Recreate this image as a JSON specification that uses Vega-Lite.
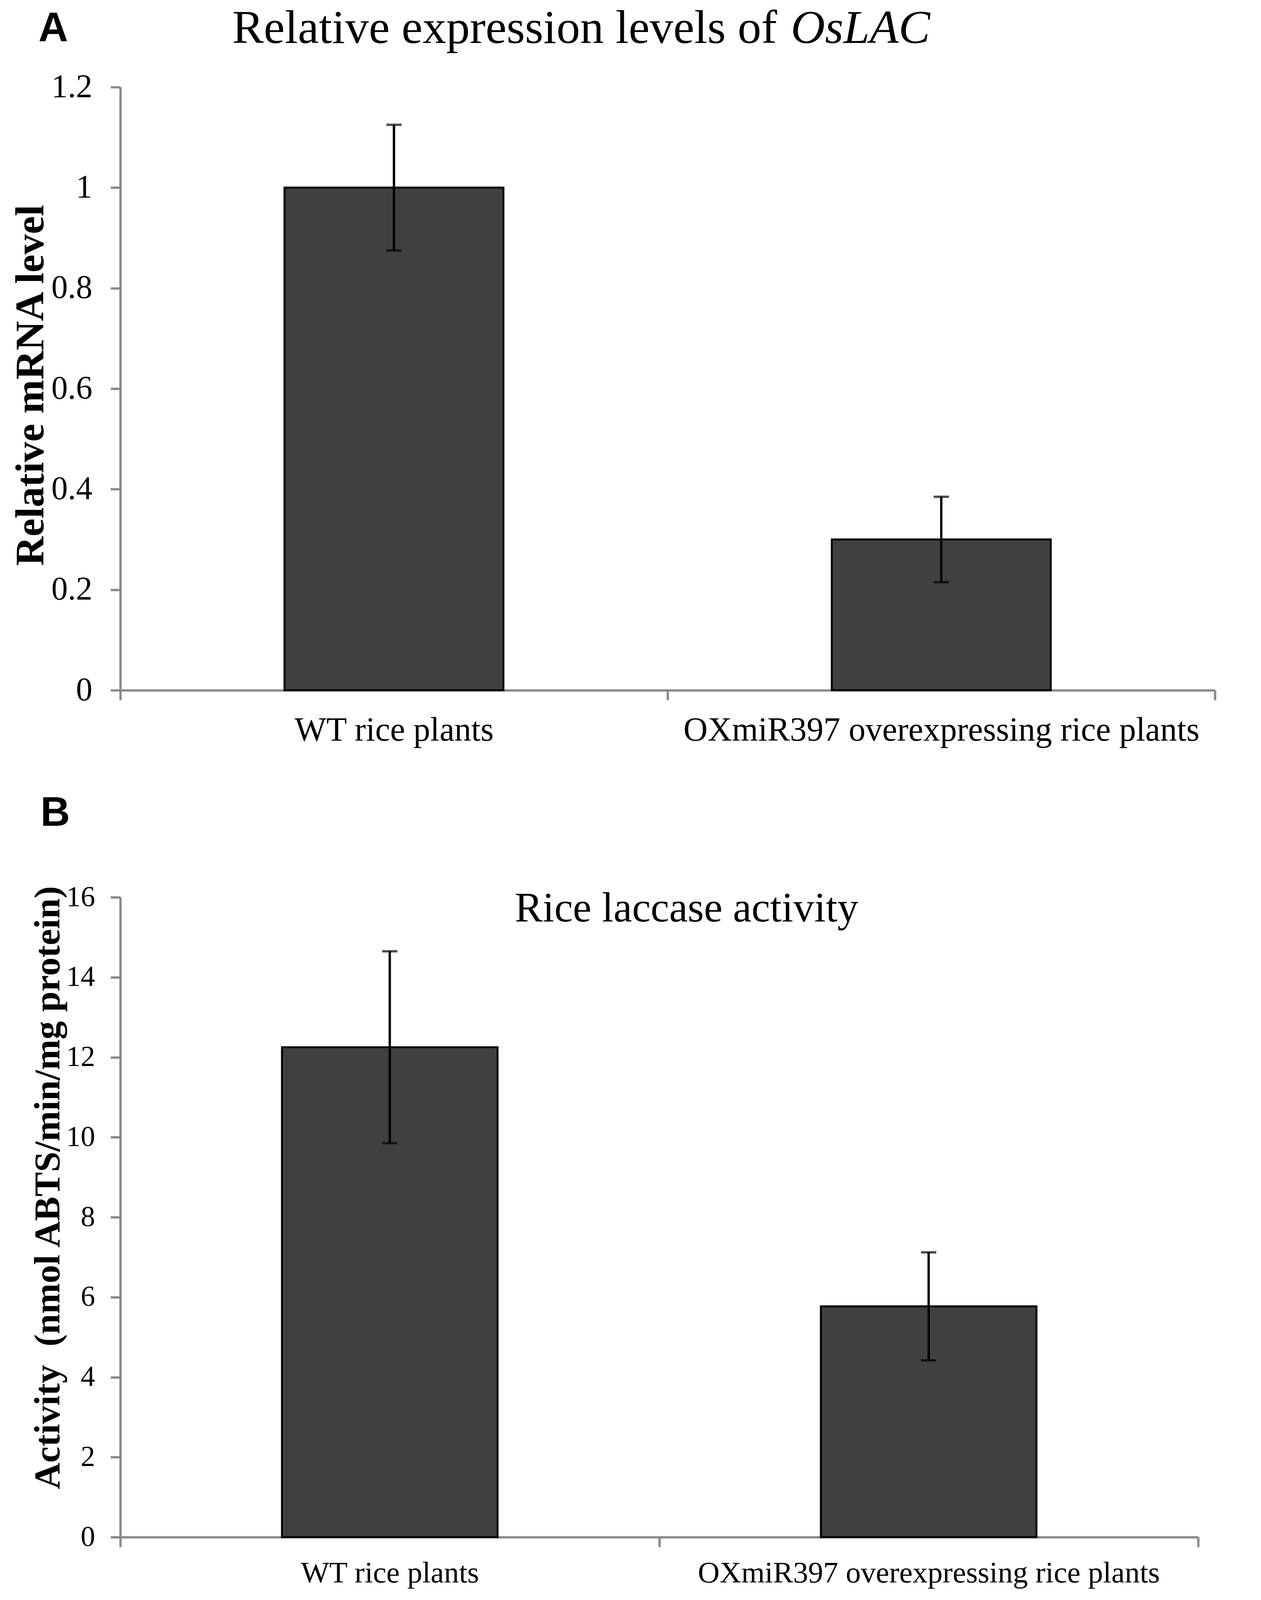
{
  "$schema": "https://vega.github.io/schema/vega-lite/v6.json",
  "background": "white",
  "padding": {"left": 27, "top": 12, "right": 10, "bottom": 5},
  "spacing": 117,
  "config": {
    "view": {"stroke": null},
    "font": "Liberation Serif",
    "axis": {
      "grid": false,
      "domainColor": "#8a8a8a",
      "domainWidth": 6,
      "tickColor": "#8a8a8a",
      "tickWidth": 6,
      "tickSize": 25,
      "labelFont": "Liberation Serif",
      "labelColor": "black",
      "labelLimit": 0,
      "titleFont": "Liberation Serif",
      "titleColor": "black"
    }
  },
  "datasets": {
    "expr": [
      {"group": "WT rice plants", "value": 1.0, "err": 0.125},
      {"group": "OXmiR397 overexpressing rice plants", "value": 0.3, "err": 0.085}
    ],
    "lac": [
      {"group": "WT rice plants", "value": 12.25, "err": 2.4},
      {"group": "OXmiR397 overexpressing rice plants", "value": 5.77, "err": 1.35}
    ]
  },
  "vconcat": [
    {
      "data": {"name": "expr"},
      "width": 2802,
      "height": 1544,
      "resolve": {"axis": {"x": "independent", "y": "independent"}},
      "layer": [
        {
          "mark": {"type": "bar", "color": "#404040", "stroke": "black", "strokeWidth": 5, "width": {"band": 0.4}},
          "encoding": {
            "x": {
              "field": "group", "type": "nominal", "sort": null,
              "scale": {"paddingInner": 0, "paddingOuter": 0},
              "axis": {
                "title": "A", "labelAngle": 0, "labelFontSize": 86,
                "labelBaseline": "alphabetic", "labelPadding": 103, "tickBand": "extent",
                "titleFont": "Liberation Sans", "titleFontSize": 105, "titleFontWeight": "bold",
                "titleAlign": "left", "titleBaseline": "alphabetic", "titleX": -210, "titleY": -1662
              }
            },
            "y": {
              "field": "value", "type": "quantitative",
              "scale": {"domain": [0, 1.2], "nice": false},
              "axis": {
                "title": "Relative mRNA level", "values": [0, 0.2, 0.4, 0.6, 0.8, 1, 1.2],
                "format": ".1~f", "labelFontSize": 84, "labelPadding": 47,
                "titleFontSize": 104, "titleFontWeight": "bold", "titleAngle": 270,
                "titleAlign": "center", "titleBaseline": "alphabetic", "titleX": -198, "titleY": 763
              }
            }
          }
        },
        {
          "mark": {"type": "errorbar", "color": "black", "thickness": 6, "ticks": {"size": 39, "thickness": 6, "color": "black"}},
          "encoding": {
            "x": {
              "field": "group", "type": "nominal", "sort": null,
              "axis": {
                "orient": "top", "domain": false, "ticks": false, "labels": false,
                "title": "Relative expression levels of", "titleFontSize": 121, "titleFontWeight": "normal",
                "titleAlign": "left", "titleBaseline": "alphabetic", "titleX": 286, "titleY": -114
              }
            },
            "y": {
              "field": "value", "type": "quantitative",
              "axis": {
                "orient": "right", "domain": false, "ticks": false, "labels": false,
                "title": "OsLAC", "titleFontSize": 121, "titleFontWeight": "normal", "titleFontStyle": "italic",
                "titleAngle": 0, "titleAlign": "left", "titleBaseline": "alphabetic", "titleX": -1086, "titleY": -114
              }
            },
            "yError": {"field": "err"}
          }
        }
      ]
    },
    {
      "data": {"name": "lac"},
      "width": 2759,
      "height": 1638,
      "resolve": {"axis": {"x": "independent", "y": "independent"}},
      "layer": [
        {
          "mark": {"type": "bar", "color": "#404040", "stroke": "black", "strokeWidth": 5, "width": {"band": 0.4}},
          "encoding": {
            "x": {
              "field": "group", "type": "nominal", "sort": null,
              "scale": {"paddingInner": 0, "paddingOuter": 0},
              "axis": {
                "title": "B", "labelAngle": 0, "labelFontSize": 77,
                "labelBaseline": "alphabetic", "labelPadding": 90, "tickBand": "extent",
                "titleFont": "Liberation Sans", "titleFontSize": 105, "titleFontWeight": "bold",
                "titleAlign": "left", "titleBaseline": "alphabetic", "titleX": -205, "titleY": -1822
              }
            },
            "y": {
              "field": "value", "type": "quantitative",
              "scale": {"domain": [0, 16], "nice": false},
              "axis": {
                "title": "Activity\u00a0 (nmol ABTS/min/mg protein)", "values": [0, 2, 4, 6, 8, 10, 12, 14, 16],
                "labelFontSize": 74, "labelPadding": 40,
                "titleFontSize": 94, "titleFontWeight": "bold", "titleAngle": 270,
                "titleAlign": "center", "titleBaseline": "alphabetic", "titleX": -157, "titleY": 743
              }
            }
          }
        },
        {
          "mark": {"type": "errorbar", "color": "black", "thickness": 6, "ticks": {"size": 39, "thickness": 6, "color": "black"}},
          "encoding": {
            "x": {
              "field": "group", "type": "nominal", "sort": null,
              "axis": {
                "orient": "top", "domain": false, "ticks": false, "labels": false,
                "title": "Rice laccase activity", "titleFontSize": 107, "titleFontWeight": "normal",
                "titleAlign": "center", "titleBaseline": "alphabetic", "titleX": 1449, "titleY": 61
              }
            },
            "y": {"field": "value", "type": "quantitative", "axis": null},
            "yError": {"field": "err"}
          }
        }
      ]
    }
  ]
}
